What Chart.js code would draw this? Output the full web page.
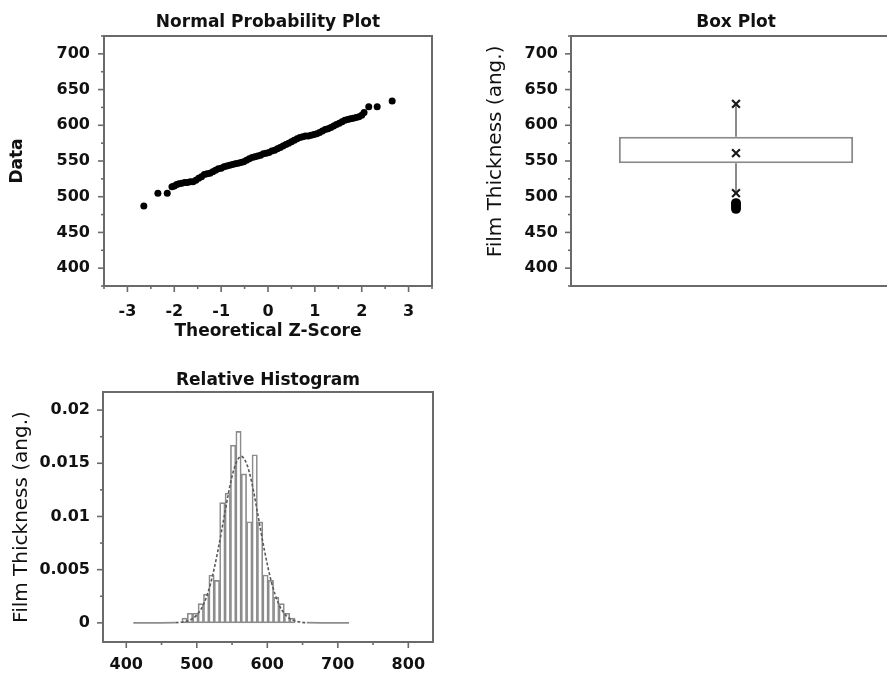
<!DOCTYPE html>
<html>
<head>
<meta charset="utf-8">
<title>Film thickness: probability plot, box plot, histogram</title>
<script src="https://cdn.jsdelivr.net/npm/chart.js@4.4.1/dist/chart.umd.min.js"></script>
<style>
  html, body { margin: 0; padding: 0; background: #fff; overflow: hidden; }
  body { width: 887px; height: 674px; position: relative; }
  canvas { position: absolute; }
  #probChart { left: 0; top: 0; }
  #boxChart { left: 470px; top: 0; }
  #histChart { left: 0; top: 350px; }
</style>
</head>
<body>
<canvas id="probChart" width="450" height="345"></canvas>
<canvas id="boxChart" width="440" height="345"></canvas>
<canvas id="histChart" width="450" height="324"></canvas>
<script>
// --- normal probability plot: theoretical z-score vs sorted data ---
const probZ = [
  -2.65, -2.35, -2.15, -2.05, -2.00, -1.95, -1.90, -1.84, -1.78, -1.72,
  -1.66, -1.60, -1.54, -1.48, -1.42, -1.36, -1.30, -1.24, -1.18, -1.12,
  -1.06, -1.00, -0.94, -0.88, -0.82, -0.76, -0.70, -0.64, -0.58, -0.52,
  -0.46, -0.40, -0.34, -0.28, -0.22, -0.16, -0.10, -0.04, 0.02, 0.08,
  0.14, 0.20, 0.26, 0.32, 0.38, 0.44, 0.50, 0.56, 0.62, 0.68,
  0.74, 0.80, 0.86, 0.92, 0.98, 1.04, 1.10, 1.16, 1.22, 1.28,
  1.34, 1.40, 1.46, 1.52, 1.58, 1.64, 1.70, 1.76, 1.82, 1.88,
  1.94, 2.00, 2.05, 2.15, 2.33, 2.65
];
const probData = [
  487, 505, 505, 514, 515, 517, 518, 519, 520, 520,
  521, 521, 523, 526, 528, 531, 532, 533, 535, 537,
  539, 540, 542, 543, 544, 545, 546, 547, 548, 549,
  551, 553, 555, 556, 557, 558, 560, 561, 562, 564,
  565, 567, 569, 571, 573, 575, 577, 579, 581, 583,
  584, 585, 585, 586, 587, 588, 590, 592, 594, 595,
  597, 599, 601, 603, 605, 607, 608, 609, 610, 611,
  612, 614, 618, 626, 626, 634
];
const probXTicks = [-3, -2, -1, 0, 1, 2, 3];
const probXMinor = [-3.5, -2.5, -1.5, -0.5, 0.5, 1.5, 2.5, 3.5];
const thickTicks = [400, 450, 500, 550, 600, 650, 700];
const thickMinor = [375, 425, 475, 525, 575, 625, 675, 725];

// --- box plot ---
const boxCategory = ['Film Thickness'];
const boxQuartiles = [547, 584];
const boxMedian = 561;
const boxWhiskers = [505, 630];
const boxOutliers = [483, 487, 491];

// --- relative histogram ---
const histCenters = [
  482.68, 490.33, 497.98, 505.63, 513.28, 520.93, 528.58, 536.23, 543.88, 551.53,
  559.18, 566.83, 574.48, 582.13, 589.78, 597.43, 605.08, 612.73, 620.38, 628.03, 635.68
];
const histDensity = [
  0.00045, 0.0009, 0.0009, 0.0018, 0.0027, 0.0045, 0.0040, 0.0113, 0.0122, 0.0167,
  0.0180, 0.0140, 0.0095, 0.0158, 0.0095, 0.0045, 0.0040, 0.0024, 0.0018, 0.0009, 0.00045
];
const curveX = [410, 470, 480, 490, 500, 510, 520, 530, 540, 548, 555, 563,
                571, 578, 586, 596, 606, 616, 626, 636, 646, 656, 716];
const curveY = [0, 0.00002, 0.00008, 0.00026, 0.00074, 0.0018, 0.0038, 0.0068, 0.0104, 0.0132, 0.0149, 0.01565,
                0.0149, 0.0132, 0.0104, 0.0068, 0.0038, 0.0018, 0.00074, 0.00026, 0.00008, 0.00002, 0];
const histXTicks = [400, 500, 600, 700, 800];
const histXMinor = [450, 550, 650, 750];
const histYTicks = [0, 0.005, 0.01, 0.015, 0.02];
const histYLabels = ['0', '0.005', '0.01', '0.015', '0.02'];
const histYMinor = [0.0025, 0.0075, 0.0125, 0.0175];

Chart.defaults.font.family = "'DejaVu Sans', sans-serif";
Chart.defaults.color = '#111';
Chart.defaults.animation = false;
Chart.defaults.plugins.legend.display = false;
Chart.defaults.plugins.tooltip.enabled = false;

const AXIS_GRAY = '#6a6a6a';

// frame around the plot area + major/minor tick marks drawn outside it
const frameTicks = {
  id: 'frameTicks',
  afterDraw(chart, args, opts) {
    const { ctx, chartArea: a, scales } = chart;
    ctx.save();
    ctx.strokeStyle = AXIS_GRAY;
    ctx.lineWidth = 2;
    ctx.strokeRect(a.left, a.top, a.right - a.left, a.bottom - a.top);
    ctx.lineWidth = 1.6;
    const yMark = (vals, len) => (vals || []).forEach(v => {
      const y = scales.y.getPixelForValue(v);
      ctx.beginPath(); ctx.moveTo(a.left - len, y); ctx.lineTo(a.left, y); ctx.stroke();
    });
    const xMark = (vals, len) => (vals || []).forEach(v => {
      const x = scales.x.getPixelForValue(v);
      ctx.beginPath(); ctx.moveTo(x, a.bottom); ctx.lineTo(x, a.bottom + len); ctx.stroke();
    });
    yMark(opts.yMajor, 6); yMark(opts.yMinor, 3);
    xMark(opts.xMajor, 6); xMark(opts.xMinor, 3);
    ctx.restore();
  }
};

const titleFont = { size: 17, weight: 'bold' };
const tickFont = { size: 16, weight: 'bold' };
const sideFont = { size: 20 };

function setTicks(list) {
  return scale => { scale.ticks = list.map(v => ({ value: v })); };
}

// 1. Normal probability plot
new Chart(document.getElementById('probChart'), {
  type: 'scatter',
  data: {
    datasets: [{
      data: probZ.map((z, i) => ({ x: z, y: probData[i] })),
      backgroundColor: '#000',
      borderWidth: 0,
      pointRadius: 3.5
    }]
  },
  options: {
    responsive: false,
    layout: { padding: { left: 0, right: 18, top: 12, bottom: 0 } },
    plugins: {
      title: { display: true, text: 'Normal Probability Plot', font: titleFont,
               fullSize: false, padding: { top: 0, bottom: 3.6 } },
      frameTicks: { yMajor: thickTicks, yMinor: thickMinor, xMajor: probXTicks, xMinor: probXMinor }
    },
    scales: {
      x: {
        type: 'linear', min: -3.5, max: 3.5,
        afterBuildTicks: setTicks(probXTicks),
        afterFit: s => { s.height = 59; },
        grid: { display: false, tickLength: 6 }, border: { display: false },
        ticks: { font: tickFont, padding: 10, maxRotation: 0 },
        title: { display: true, text: 'Theoretical Z-Score', font: titleFont, padding: { top: 0, bottom: 2.8 } }
      },
      y: {
        min: 375, max: 725,
        afterBuildTicks: setTicks(thickTicks),
        afterFit: s => { s.width = 104; },
        grid: { display: false, tickLength: 6 }, border: { display: false },
        ticks: { font: tickFont, padding: 8 },
        title: { display: true, text: 'Data', font: titleFont, padding: { top: 7.8, bottom: 0 } }
      }
    }
  },
  plugins: [frameTicks]
});

// 2. Box plot
const cat = boxCategory[0];
new Chart(document.getElementById('boxChart'), {
  type: 'bar',
  data: {
    labels: boxCategory,
    datasets: [
      {
        type: 'line', order: 1,
        data: [{ x: cat, y: boxWhiskers[1] }, { x: cat, y: boxMedian }, { x: cat, y: boxWhiskers[0] }],
        showLine: false, pointStyle: 'crossRot', pointRadius: 5.5,
        pointBorderWidth: 2.2, pointBorderColor: '#1a1a1a'
      },
      {
        type: 'line', order: 1,
        data: boxOutliers.map(v => ({ x: cat, y: v })),
        showLine: false, pointStyle: 'circle', pointRadius: 5,
        pointBackgroundColor: '#000', pointBorderWidth: 0
      },
      {
        type: 'line', order: 2,
        data: [{ x: cat, y: boxQuartiles[1] }, { x: cat, y: boxWhiskers[1] }],
        borderColor: '#8a8a8a', borderWidth: 2, pointRadius: 0
      },
      {
        type: 'line', order: 2,
        data: [{ x: cat, y: boxQuartiles[0] }, { x: cat, y: boxWhiskers[0] }],
        borderColor: '#8a8a8a', borderWidth: 2, pointRadius: 0
      },
      {
        type: 'bar', order: 3,
        data: [boxQuartiles],
        backgroundColor: '#fff', borderColor: '#8a8a8a', borderWidth: 2,
        borderSkipped: false, barPercentage: 0.71, categoryPercentage: 1
      }
    ]
  },
  options: {
    responsive: false,
    layout: { padding: { left: 0, right: 9, top: 12, bottom: 59 } },
    plugins: {
      title: { display: true, text: 'Box Plot', font: titleFont,
               fullSize: false, padding: { top: 0, bottom: 3.6 } },
      frameTicks: { yMajor: thickTicks, yMinor: thickMinor }
    },
    scales: {
      x: { display: false },
      y: {
        min: 375, max: 725,
        afterBuildTicks: setTicks(thickTicks),
        afterFit: s => { s.width = 101; },
        grid: { display: false, tickLength: 6 }, border: { display: false },
        ticks: { font: tickFont, padding: 7 },
        // leading spaces nudge the rotated label upward like the original
        title: { display: true, text: '   Film Thickness (ang.)', font: sideFont, padding: { top: 13.5, bottom: 0 } }
      }
    }
  },
  plugins: [frameTicks]
});

// 3. Relative histogram with fitted normal curve
new Chart(document.getElementById('histChart'), {
  type: 'bar',
  data: {
    datasets: [
      {
        type: 'line', order: 1,
        data: curveX.map((x, i) => ({ x: x, y: curveY[i] })),
        borderColor: '#5a5a5a', borderWidth: 1.6,
        segment: {
          borderDash: c => (c.p0.parsed.y < 0.00005 && c.p1.parsed.y < 0.00005) ? [] : [3, 2],
          borderColor: c => (c.p0.parsed.y < 0.00005 && c.p1.parsed.y < 0.00005) ? '#8c8c8c' : '#5a5a5a'
        },
        pointRadius: 0, cubicInterpolationMode: 'monotone'
      },
      {
        type: 'bar', order: 2,
        data: histCenters.map((x, i) => ({ x: x, y: histDensity[i] })),
        backgroundColor: 'rgba(255,255,255,0)', borderColor: '#8c8c8c', borderWidth: 1,
        borderSkipped: false, barPercentage: 1, categoryPercentage: 1, grouped: false
      }
    ]
  },
  options: {
    responsive: false,
    layout: { padding: { left: 0, right: 17, top: 20, bottom: 0 } },
    plugins: {
      title: { display: true, text: 'Relative Histogram', font: titleFont,
               fullSize: false, padding: { top: 0, bottom: 1.6 } },
      frameTicks: { yMajor: histYTicks, yMinor: histYMinor, xMajor: histXTicks, xMinor: histXMinor }
    },
    scales: {
      x: {
        type: 'linear', min: 367, max: 835, offset: false,
        afterBuildTicks: setTicks(histXTicks),
        afterFit: s => { s.height = 32; },
        grid: { display: false, tickLength: 6 }, border: { display: false },
        ticks: { font: tickFont, padding: 7, maxRotation: 0 }
      },
      y: {
        min: -0.0018, max: 0.0217,
        afterBuildTicks: setTicks(histYTicks),
        afterFit: s => { s.width = 103; },
        grid: { display: false, tickLength: 6 }, border: { display: false },
        ticks: { font: tickFont, padding: 7, callback: (v, i) => histYLabels[i] },
        title: { display: true, text: 'Film Thickness (ang.)', font: sideFont, padding: { top: 10, bottom: 0 } }
      }
    }
  },
  plugins: [frameTicks]
});
</script>
</body>
</html>
